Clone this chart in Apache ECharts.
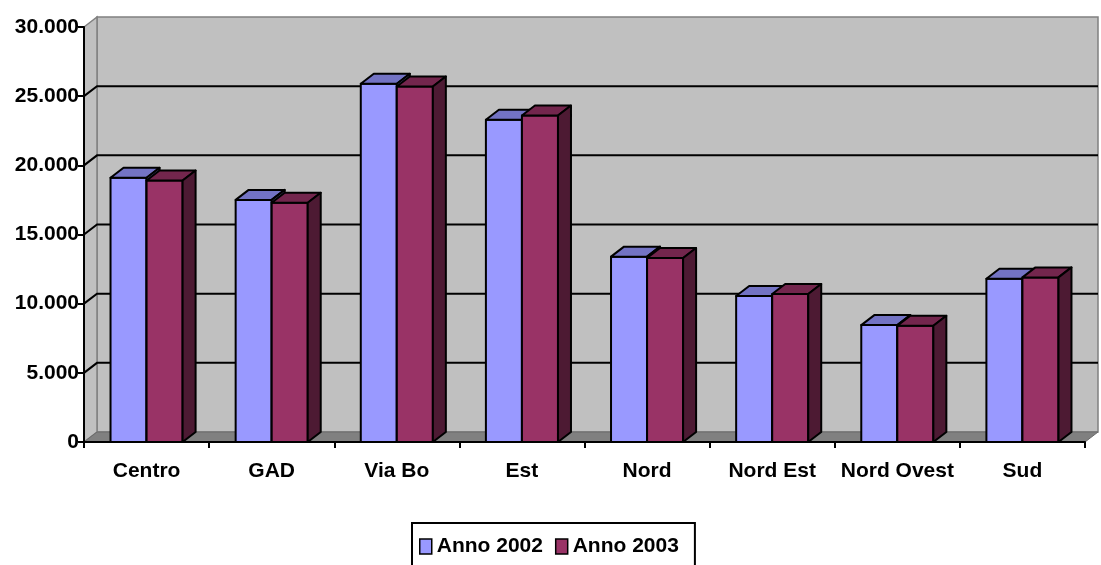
<!DOCTYPE html>
<html>
<head>
<meta charset="utf-8">
<script src="https://cdn.jsdelivr.net/npm/echarts@6/dist/echarts.min.js"></script>
<style>
  html, body { margin: 0; padding: 0; background: #fff; }
  #chart { width: 1101px; height: 565px; }
</style>
</head>
<body>
<div id="chart"></div>
<script>
const categories = ['Centro', 'GAD', 'Via Bo', 'Est', 'Nord', 'Nord Est', 'Nord Ovest', 'Sud'];
const anno2002 = [19100, 17500, 25900, 23300, 13400, 10550, 8450, 11800];
const anno2003 = [18900, 17300, 25700, 23600, 13300, 10700, 8400, 11900];
const gridValues = [5000, 10000, 15000, 20000, 25000];

// depth of the fake 3d box (px)
const DX = 13, DY = 10;
const BAR_FRAC = 0.288;
const FONT = '"Liberation Sans", Arial, sans-serif';

function fmt(v) {
  return String(v).replace(/\B(?=(\d{3})+(?!\d))/g, '.');
}

function wallsRenderer(params, api) {
  const cs = params.coordSys;
  const xl = cs.x, xr = cs.x + cs.width, yt = cs.y, yb = cs.y + cs.height;
  const children = [
    { type: 'rect', shape: { x: xl + DX, y: yt - DY, width: cs.width, height: cs.height },
      style: { fill: '#C0C0C0', stroke: '#808080', lineWidth: 1.5 } },
    { type: 'polygon', shape: { points: [[xl, yt], [xl + DX, yt - DY], [xl + DX, yb - DY], [xl, yb]] },
      style: { fill: '#C0C0C0', stroke: '#808080', lineWidth: 1.5 } },
    { type: 'polygon', shape: { points: [[xl, yb], [xl + DX, yb - DY], [xr + DX, yb - DY], [xr, yb]] },
      style: { fill: '#808080', stroke: '#6a6a6a', lineWidth: 1 } }
  ];
  gridValues.forEach(function (v) {
    const y = api.coord([0, v])[1];
    children.push({
      type: 'polyline',
      shape: { points: [[xl, y], [xl + DX, y - DY], [xr + DX, y - DY]] },
      style: { stroke: '#000', lineWidth: 2, fill: null }
    });
  });
  return { type: 'group', children: children };
}

function barRenderer(offset, colors) {
  return function (params, api) {
    const cat = api.value(0), val = api.value(1);
    const base = api.coord([cat, 0]);
    const top = api.coord([cat, val]);
    const w = api.size([1, 0])[0] * BAR_FRAC;
    const x0 = base[0] + offset * w, x1 = x0 + w;
    const y0 = top[1], yb = base[1];
    const st = { stroke: '#000', lineWidth: 2, lineJoin: 'round' };
    return {
      type: 'group',
      children: [
        { type: 'rect', shape: { x: x0, y: y0, width: w, height: yb - y0 },
          style: Object.assign({ fill: colors[0] }, st) },
        { type: 'polygon', shape: { points: [[x0, y0], [x0 + DX, y0 - DY], [x1 + DX, y0 - DY], [x1, y0]] },
          style: Object.assign({ fill: colors[1] }, st) },
        { type: 'polygon', shape: { points: [[x1, y0], [x1 + DX, y0 - DY], [x1 + DX, yb - DY], [x1, yb]] },
          style: Object.assign({ fill: colors[2] }, st) }
      ]
    };
  };
}

const chart = echarts.init(document.getElementById('chart'));
chart.setOption({
  backgroundColor: '#fff',
  animation: false,
  grid: { left: 84, right: 16, top: 27, bottom: 123 },
  xAxis: {
    type: 'category',
    data: categories,
    z: 10,
    axisLine: { lineStyle: { color: '#000', width: 2 } },
    axisTick: { show: true, interval: 0, length: 6, lineStyle: { color: '#000', width: 2 } },
    axisLabel: { interval: 0, color: '#000', fontFamily: FONT, fontWeight: 'bold', fontSize: 21, margin: 19 },
    splitLine: { show: false }
  },
  yAxis: {
    type: 'value',
    min: 0, max: 30000, interval: 5000,
    z: 10,
    axisLine: { show: true, lineStyle: { color: '#000', width: 2 } },
    axisTick: { show: true, length: 6, lineStyle: { color: '#000', width: 2 } },
    axisLabel: { color: '#000', fontFamily: FONT, fontWeight: 'bold', fontSize: 21, margin: 5, formatter: fmt },
    splitLine: { show: false }
  },
  legend: {
    left: 412, top: 523,
    orient: 'horizontal',
    backgroundColor: '#fff',
    borderColor: '#000', borderWidth: 2, borderRadius: 0,
    padding: [13, 16, 14, 7],
    itemGap: 12, itemWidth: 12, itemHeight: 15,
    textStyle: { color: '#000', fontFamily: FONT, fontWeight: 'bold', fontSize: 21 },
    data: [
      { name: 'Anno 2002', icon: 'rect', itemStyle: { color: '#9999FF', borderColor: '#000', borderWidth: 1.5 } },
      { name: 'Anno 2003', icon: 'rect', itemStyle: { color: '#993366', borderColor: '#000', borderWidth: 1.5 } }
    ]
  },
  series: [
    {
      name: 'walls', type: 'custom', z: 1, silent: true,
      renderItem: wallsRenderer,
      data: [[0, 0]],
      encode: { x: 0, y: 1 }
    },
    {
      name: 'Anno 2002', type: 'custom', z: 2,
      itemStyle: { color: '#9999FF' },
      renderItem: barRenderer(-1, ['#9999FF', '#7373C4', '#4D4D80']),
      data: categories.map(function (c, i) { return [i, anno2002[i]]; }),
      encode: { x: 0, y: 1 }
    },
    {
      name: 'Anno 2003', type: 'custom', z: 3,
      itemStyle: { color: '#993366' },
      renderItem: barRenderer(0, ['#993366', '#73264D', '#4D1A33']),
      data: categories.map(function (c, i) { return [i, anno2003[i]]; }),
      encode: { x: 0, y: 1 }
    }
  ]
});
</script>
</body>
</html>
